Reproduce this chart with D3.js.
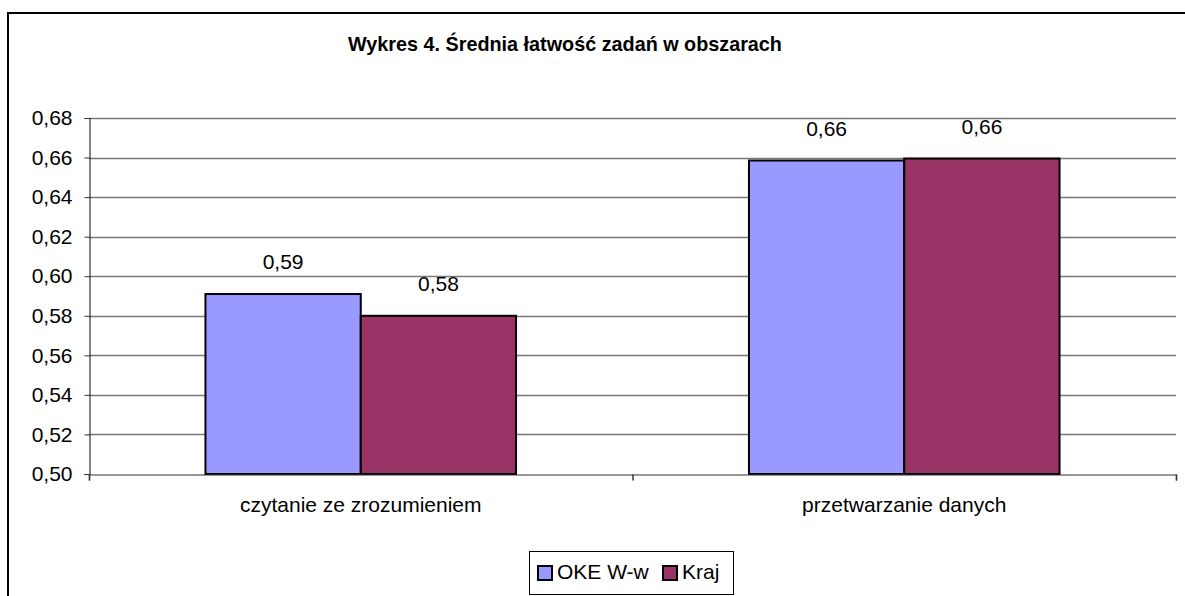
<!DOCTYPE html>
<html><head><meta charset="utf-8">
<script src="https://cdn.jsdelivr.net/npm/d3@7"></script>
<style>body{margin:0;background:#fff}svg{display:block;font-family:"Liberation Sans",Arial,sans-serif}</style>
</head><body>
<svg id="c" width="1185" height="596"></svg>
<script>
const categories = ["czytanie ze zrozumieniem", "przetwarzanie danych"];
const seriesNames = ["OKE W-w", "Kraj"];
const okeValues = [0.591, 0.6585];
const krajValues = [0.580, 0.6595];
const valueLabels = [["0,59", "0,58"], ["0,66", "0,66"]];
const yTicks = [0.50, 0.52, 0.54, 0.56, 0.58, 0.60, 0.62, 0.64, 0.66, 0.68];
const colors = ["#9999FF", "#993366"];
const title = "Wykres 4. Średnia łatwość zadań w obszarach";

const svg = d3.select("#c");
const L = 89, R = 1176, T = 118, B = 474;
const FS = 21;

// outer frame (extends beyond window on right/bottom)
svg.append("rect").attr("x", 8).attr("y", 13).attr("width", 1300).attr("height", 700)
  .attr("fill", "none").attr("stroke", "#000").attr("stroke-width", 2);

svg.append("text").attr("x", 565).attr("y", 51).attr("text-anchor", "middle")
  .attr("font-weight", "bold").attr("font-size", 19.8).text(title);

const y = d3.scaleLinear().domain([0.50, 0.68]).range([B, T]);
// gap width 150%: bars occupy 2/(2+1.5) of each category band
const band = (R - L) / categories.length;
const x1 = d3.scaleBand().domain(seriesNames).range([0, band * 2 / 3.5]);
const groupStart = i => L + band * i + band * 0.75 / 3.5;

// gridlines
svg.append("g").selectAll("line").data(yTicks.slice(1)).join("line")
  .attr("x1", L).attr("x2", R).attr("y1", d => Math.round(y(d)) + 0.5).attr("y2", d => Math.round(y(d)) + 0.5)
  .attr("stroke", "#777").attr("stroke-width", 1.4);

// y axis
const yAxis = d3.axisLeft(y).tickValues(yTicks).tickSize(5).tickPadding(12)
  .tickFormat(d => d3.format(".2f")(d).replace(".", ","));
const gy = svg.append("g").attr("transform", `translate(${L + 0.5},0)`).call(yAxis);
gy.select(".domain").attr("stroke", "#333").attr("stroke-width", 1.2);
gy.selectAll(".tick line").attr("stroke", "#333");
gy.selectAll("text").attr("font-size", FS).attr("fill", "#000").attr("font-family", "Liberation Sans, Arial, sans-serif");

// bars
const data = categories.map((c, i) => ({ c, i, vals: [okeValues[i], krajValues[i]] }));
const groups = svg.append("g").selectAll("g").data(data).join("g")
  .attr("transform", d => `translate(${groupStart(d.i)},0)`);
groups.selectAll("rect").data(d => d.vals.map((v, k) => ({ v, k }))).join("rect")
  .attr("x", d => x1(seriesNames[d.k])).attr("width", x1.bandwidth())
  .attr("y", d => y(d.v)).attr("height", d => B - y(d.v))
  .attr("fill", d => colors[d.k]).attr("stroke", "#000").attr("stroke-width", 2);
groups.selectAll("text").data(d => d.vals.map((v, k) => ({ v, k, lab: valueLabels[d.i][k] }))).join("text")
  .attr("x", d => x1(seriesNames[d.k]) + x1.bandwidth() / 2).attr("y", d => y(d.v) - 25)
  .attr("text-anchor", "middle").attr("font-size", FS).text(d => d.lab);

// x axis
const xAxis = d3.axisBottom(d3.scaleLinear().domain([0, categories.length]).range([L, R]))
  .tickValues(d3.range(categories.length + 1)).tickSize(6).tickFormat("");
const gx = svg.append("g").attr("transform", `translate(0,${B + 0.5})`).call(xAxis);
gx.select(".domain").attr("stroke", "#333").attr("stroke-width", 1.2);
gx.selectAll(".tick line").attr("stroke", "#333").attr("stroke-width", 1.5);

svg.append("g").selectAll("text").data(categories).join("text")
  .attr("x", (d, i) => L + band * (i + 0.5)).attr("y", 512).attr("text-anchor", "middle")
  .attr("font-size", FS).text(d => d);

// legend
const lg = svg.append("g");
lg.append("rect").attr("x", 529.5).attr("y", 551.5).attr("width", 204).attr("height", 43)
  .attr("fill", "#fff").attr("stroke", "#000").attr("stroke-width", 1);
const legX = [538, 663];
const legTX = [557, 682];
seriesNames.forEach((s, k) => {
  lg.append("rect").attr("x", legX[k]).attr("y", 566).attr("width", 14).attr("height", 14)
    .attr("fill", colors[k]).attr("stroke", "#000").attr("stroke-width", 2);
  lg.append("text").attr("x", legTX[k]).attr("y", 579).attr("font-size", FS).text(s);
});
</script>
</body></html>
